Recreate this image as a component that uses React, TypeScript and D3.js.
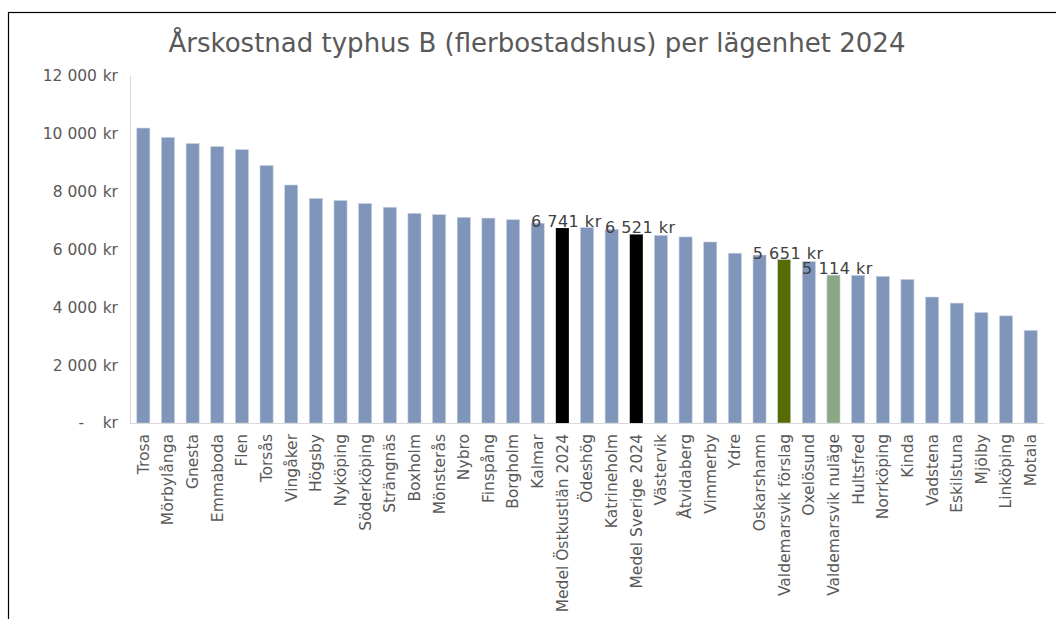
import React from "react";
import * as d3 from "d3";

const categories: string[] = [
  "Trosa", "Mörbylånga", "Gnesta", "Emmaboda", "Flen", "Torsås", "Vingåker", "Högsby",
  "Nyköping", "Söderköping", "Strängnäs", "Boxholm", "Mönsterås", "Nybro", "Finspång",
  "Borgholm", "Kalmar", "Medel Östkustlän 2024", "Ödeshög", "Katrineholm", "Medel Sverige 2024",
  "Västervik", "Åtvidaberg", "Vimmerby", "Ydre", "Oskarshamn", "Valdemarsvik förslag",
  "Oxelösund", "Valdemarsvik nuläge", "Hultsfred", "Norrköping", "Kinda", "Vadstena",
  "Eskilstuna", "Mjölby", "Linköping", "Motala",
];

const values: number[] = [
  10200, 9874, 9664, 9559, 9454, 8905, 8230, 7764,
  7694, 7589, 7460, 7250, 7204, 7110, 7085,
  7029, 6910, 6741, 6760, 6700, 6521,
  6490, 6435, 6260, 5871, 5808, 5651,
  5581, 5114, 5105, 5070, 4965, 4356,
  4146, 3821, 3705, 3202,
];

const labelled: string[] = ["Medel Östkustlän 2024", "Medel Sverige 2024", "Valdemarsvik förslag", "Valdemarsvik nuläge"];
const blackBars: string[] = ["Medel Östkustlän 2024", "Medel Sverige 2024"];
const yTicks: number[] = [0, 2000, 4000, 6000, 8000, 10000, 12000];

const FONT = "'DejaVu Sans', Verdana, sans-serif";

export default function App() {
  const x = d3.scaleBand<string>().domain(categories).range([131, 1043]).paddingInner(0.47).paddingOuter(0.235);
  const y = d3.scaleLinear().domain([0, 12000]).range([423, 76]);
  const fmt = (v: number) => d3.format(",")(v).replace(/,/g, " ");

  const colorOf = (c: string) => {
    if (blackBars.includes(c)) return "#000000";
    if (c === "Valdemarsvik förslag") return "#566B00";
    if (c === "Valdemarsvik nuläge") return "#8BA884";
    return "#7F95BA";
  };

  return (
    <svg width={1056} height={619} style={{ position: "absolute", left: 0, top: 0, background: "#fff" }} fontFamily={FONT}>
      <rect x={0} y={0} width={1056} height={619} fill="#fff" />
      <rect x={8.5} y={12.5} width={1200} height={800} fill="none" stroke="#000" strokeWidth={1.2} />
      <text x={537} y={52} textAnchor="middle" fontSize={26} fill="#595959">
        Årskostnad typhus B (flerbostadshus) per lägenhet 2024
      </text>
      <line x1={130.5} x2={130.5} y1={y(12000)} y2={y(0)} stroke="#d9d9d9" />
      {yTicks.map((t) => (
        <g key={t} fontSize={15.5} fill="#595959">
          {t === 0 ? (
            <text x={84} y={y(t)} dy="0.35em" textAnchor="end">-</text>
          ) : (
            <text x={97} y={y(t)} dy="0.35em" textAnchor="end">{fmt(t)}</text>
          )}
          <text x={118} y={y(t)} dy="0.35em" textAnchor="end">kr</text>
        </g>
      ))}
      {categories.map((c, i) => (
        <rect
          key={c}
          x={x(c)}
          y={y(values[i])}
          width={x.bandwidth()}
          height={y(0) - y(values[i])}
          fill={colorOf(c)}
          stroke={blackBars.includes(c) ? "none" : "#c5d0e0"}
          strokeWidth={0.6}
        />
      ))}
      <line x1={130} x2={1044} y1={423.5} y2={423.5} stroke="#d9d9d9" />
      {categories.map((c) => {
        const cx = (x(c) as number) + x.bandwidth() / 2;
        return (
          <text
            key={"l" + c}
            transform={`translate(${cx},434) rotate(-90)`}
            textAnchor="end"
            dy="0.35em"
            fontSize={15.5}
            fill="#595959"
          >
            {c}
          </text>
        );
      })}
      {categories.map((c, i) =>
        labelled.includes(c) ? (
          <text
            key={"d" + c}
            x={(x(c) as number) + x.bandwidth() / 2 + 4}
            y={y(values[i]) - 1}
            textAnchor="middle"
            fontSize={16}
            letterSpacing={0.5}
            fill="#404040"
          >
            {fmt(values[i]) + " kr"}
          </text>
        ) : null
      )}
    </svg>
  );
}
